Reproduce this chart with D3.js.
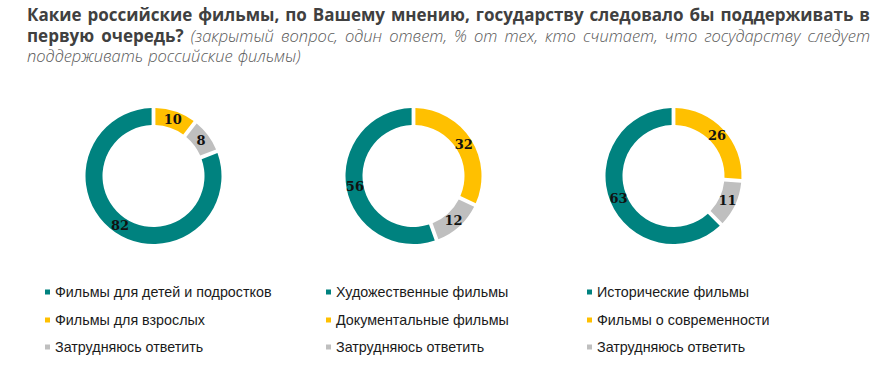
<!DOCTYPE html>
<html>
<head>
<meta charset="utf-8">
<script src="https://cdn.jsdelivr.net/npm/d3@7"></script>
<style>
  body { margin: 0; background: #fff; }
  svg { display: block; }
</style>
</head>
<body>
<svg id="chart" width="892" height="387"></svg>
<script>
// data

const titleLines = [
  [['Какие российские фильмы, по Вашему мнению, государству следовало бы поддерживать в', true]],
  [['первую очередь?', true], ['(закрытый вопрос, один ответ, % от тех, кто считает, что государству следует', false]],
  [['поддерживать российские фильмы)', false]]
];

const charts = ['children', 'fiction', 'history'];

const categories = [
  ['Фильмы для детей и подростков', 'Фильмы для взрослых', 'Затрудняюсь ответить'],
  ['Художественные фильмы', 'Документальные фильмы', 'Затрудняюсь ответить'],
  ['Исторические фильмы', 'Фильмы о современности', 'Затрудняюсь ответить']
];

const values = [
  [82, 10, 8],
  [56, 32, 12],
  [63, 26, 11]
];

const colors = ['#00827f', '#ffc000', '#bfbfbf'];

// order of slices clockwise from 12 o'clock: second, third, first
const sliceOrder = [1, 2, 0];

const svg = d3.select('#chart');

// title, justified word by word (last line left aligned)

const titleLeft = 27;
const titleRight = 870;
const baselines = [21, 42, 62];

const title = svg.append('g').attr('class', 'title');

titleLines.forEach((parts, i) => {
  const words = [];
  parts.forEach(([str, bold]) => {
    str.split(' ').forEach(w => {
      const node = title.append('text')
          .attr('font-family', '"Open Sans", sans-serif')
          .attr('font-size', bold ? 17 : 16.5)
          .attr('font-weight', bold ? 700 : 300)
          .attr('font-style', bold ? 'normal' : 'italic')
          .attr('fill', bold ? '#404040' : '#595959')
          .attr('y', baselines[i])
          .text(w);
      words.push({ node, width: node.node().getComputedTextLength() });
    });
  });
  const total = d3.sum(words, w => w.width);
  const last = i === titleLines.length - 1;
  const gap = last ? 5 : (titleRight - titleLeft - total) / (words.length - 1);
  let x = titleLeft;
  words.forEach(w => {
    w.node.attr('x', x);
    x += w.width + gap;
  });
});

// donuts

const centers = [153.5, 413.5, 673.5];
const cy = 176;
const outer = 68;
const inner = 51;

const pie = d3.pie()
    .sort(null)
    .value(d => d.value)
    .padAngle(0.045);

const arc = d3.arc()
    .innerRadius(inner)
    .outerRadius(outer);

const labelArc = d3.arc()
    .innerRadius((inner + outer) / 2)
    .outerRadius((inner + outer) / 2);

charts.forEach((name, i) => {
  const slices = sliceOrder.map(k => ({ value: values[i][k], color: colors[k] }));

  const g = svg.append('g')
      .attr('class', 'donut ' + name)
      .attr('transform', `translate(${centers[i]}, ${cy})`);

  g.selectAll('path')
    .data(pie(slices))
    .join('path')
      .attr('d', arc)
      .attr('fill', d => d.data.color);

  g.selectAll('text')
    .data(pie(slices))
    .join('text')
      .attr('transform', d => `translate(${labelArc.centroid(d)})`)
      .attr('text-anchor', 'middle')
      .attr('dominant-baseline', 'central')
      .attr('font-family', '"DejaVu Serif", serif')
      .attr('font-weight', 700)
      .attr('font-size', 13)
      .attr('fill', '#111')
      .text(d => d.data.value);
});

// legend

const legendX = [45, 326, 587];
const legendY = [292, 320, 347];

categories.forEach((cats, i) => {
  const lg = svg.append('g')
      .attr('class', 'legend')
      .attr('transform', `translate(${legendX[i]}, 0)`);

  lg.selectAll('rect')
    .data(cats)
    .join('rect')
      .attr('x', 0)
      .attr('y', (d, k) => legendY[k] - 2.5)
      .attr('width', 5)
      .attr('height', 5)
      .attr('fill', (d, k) => colors[k]);

  lg.selectAll('text')
    .data(cats)
    .join('text')
      .attr('x', 10)
      .attr('y', (d, k) => legendY[k])
      .attr('dominant-baseline', 'central')
      .attr('font-family', '"Liberation Sans", Arial, sans-serif')
      .attr('font-size', 14.3)
      .attr('fill', '#1a1a1a')
      .text(d => d);
});
</script>
</body>
</html>
